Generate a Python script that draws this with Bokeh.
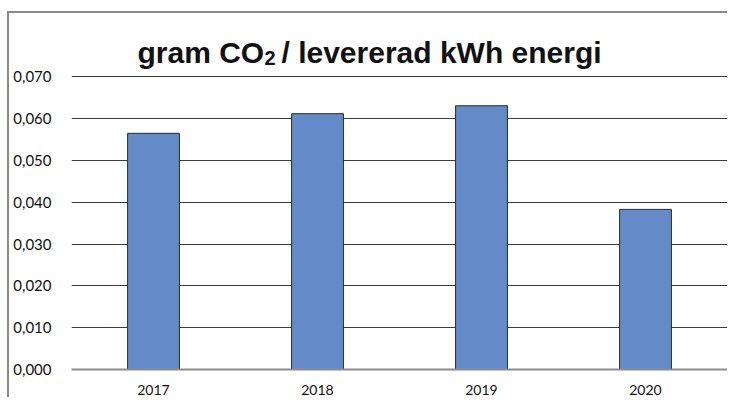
from bokeh.plotting import figure
from bokeh.models import (FactorRange, Range1d, CustomJSTickFormatter, FixedTicker,
                          InlineStyleSheet, Label)
from bokeh.embed import file_html
from bokeh.resources import INLINE

years = ["2017", "2018", "2019", "2020"]
values = [0.0565, 0.0612, 0.0631, 0.0383]
y_ticks = [0.0, 0.01, 0.02, 0.03, 0.04, 0.05, 0.06, 0.07]
title_main = "gram CO"
title_sub = "2"
title_rest = "/ levererad kWh energi"

W, H = 727, 397
LEFT, RIGHT, BOTTOM = 71, 0, 25
GRID_TOP = 77          # pixel row of the top gridline (0,070)
Y_TOP_TICK = 0.07
frame_h = H - BOTTOM
y_end = Y_TOP_TICK * frame_h / (frame_h - GRID_TOP)
unit_px = (W - LEFT - RIGHT) / len(years)

def px_x(x):
    return (x - LEFT) / unit_px

def px_y(y):
    return (H - BOTTOM - y) / frame_h * y_end

border_css = InlineStyleSheet(css="""
:host(.bk-Figure)::before {
  content: ''; position: absolute; left: 7px; top: 11px; width: 720px; height: 2px;
  background: #8A8A8A; border: 0; pointer-events: none; z-index: 5;
}
:host(.bk-Figure)::after {
  content: ''; position: absolute; left: 7px; top: 11px; width: 2px; height: 386px;
  background: #8A8A8A; border: 0; pointer-events: none; z-index: 5;
}
""")

p = figure(width=W, height=H, x_range=FactorRange(*years, range_padding=0),
           y_range=Range1d(0, y_end), output_backend="svg", toolbar_location=None,
           min_border_left=LEFT, min_border_right=RIGHT, min_border_top=0,
           min_border_bottom=BOTTOM, stylesheets=[border_css])
p.background_fill_color = "white"
p.border_fill_color = "white"
p.outline_line_color = None

p.vbar(x=years, top=values, width=0.316, fill_color="#628BC8",
       line_color="#1F2D40", line_width=1)

# axes
p.yaxis.ticker = FixedTicker(ticks=y_ticks)
p.yaxis.formatter = CustomJSTickFormatter(code="return tick.toFixed(3).replace('.', ',');")
p.yaxis.axis_line_color = None
p.yaxis.major_tick_line_color = None
p.yaxis.minor_tick_line_color = None
p.yaxis.major_label_standoff = 14
p.yaxis.major_label_text_font = "Lato"
p.yaxis.major_label_text_font_size = "15px"
p.yaxis.major_label_text_color = "#111111"

p.xaxis.axis_line_color = "#8C8C8C"
p.xaxis.axis_line_width = 2
p.xaxis.major_tick_line_color = None
p.xaxis.minor_tick_line_color = None
p.xaxis.major_label_standoff = 9
p.xaxis.major_label_text_font = "Lato"
p.xaxis.major_label_text_font_size = "14px"
p.xaxis.major_label_text_color = "#111111"

p.xgrid.grid_line_color = None
p.ygrid.grid_line_color = "#3A3A3A"
p.ygrid.grid_line_width = 1

# title in pieces (subscript 2)
common = dict(text_font="Liberation Sans", text_font_style="bold",
              text_color="#111111", text_baseline="alphabetic", text_align="left")
p.add_layout(Label(x=px_x(137), y=px_y(52), text=title_main, text_font_size="30px", **common))
p.add_layout(Label(x=px_x(264), y=px_y(58), text=title_sub, text_font_size="20px", **common))
p.add_layout(Label(x=px_x(281), y=px_y(52), text=title_rest, text_font_size="30px", **common))

open("out.html", "w").write(file_html(p, INLINE))
